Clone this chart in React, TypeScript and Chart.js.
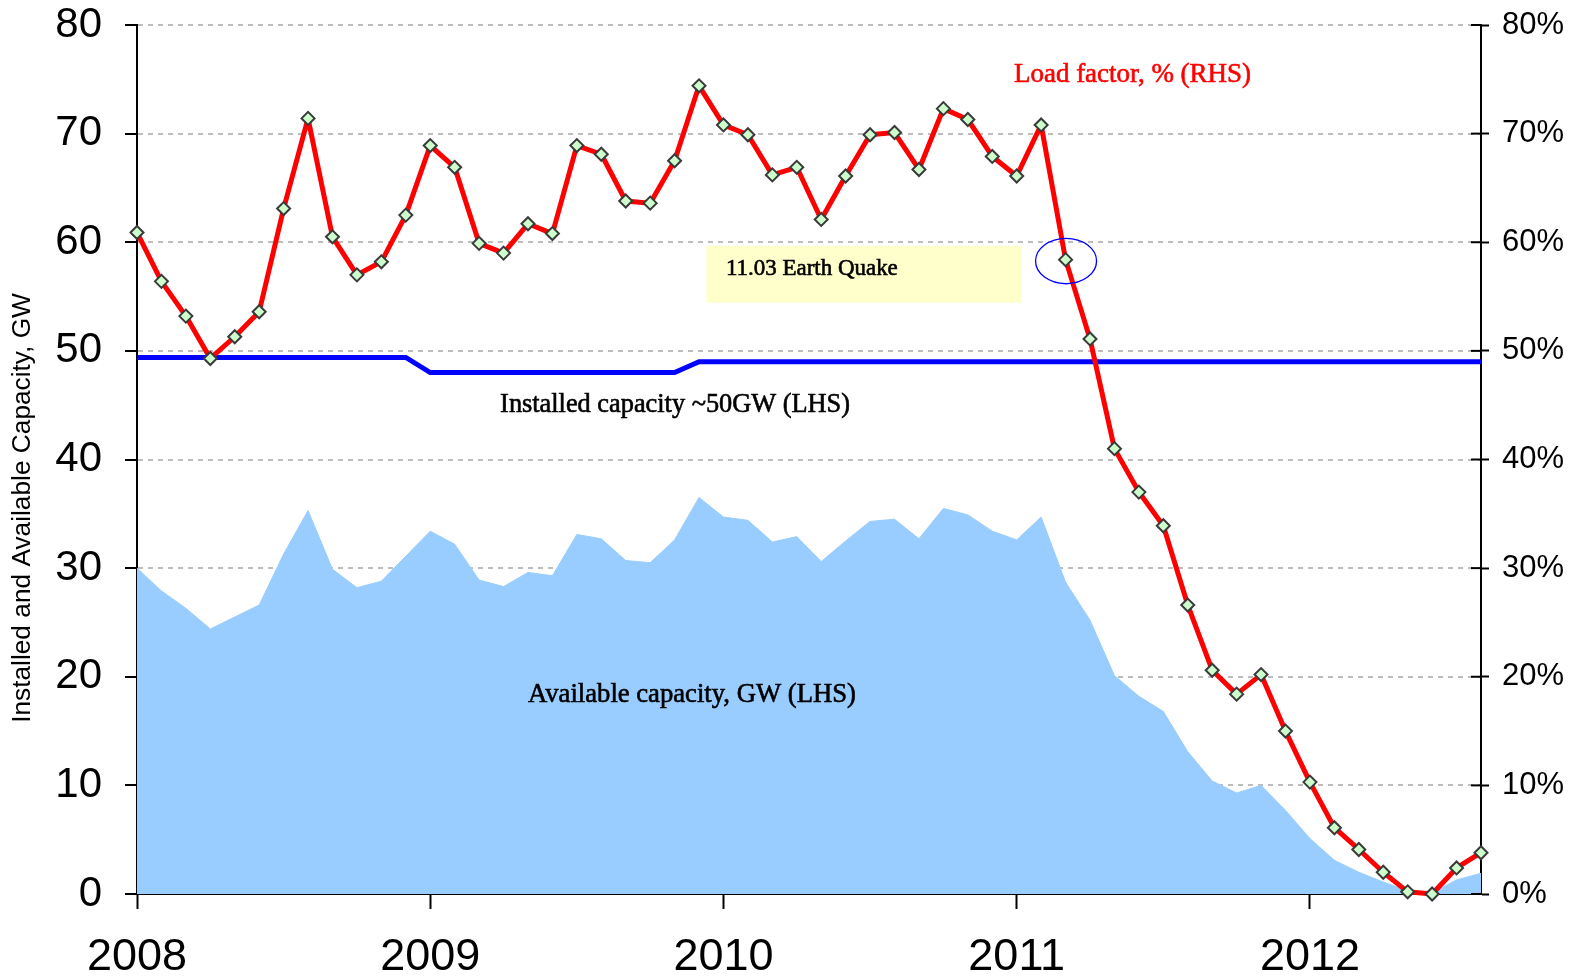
import React, { useEffect, useRef } from "react";
import { Chart, registerables } from "chart.js";

Chart.register(...registerables);

// ---- Data (monthly, Jan 2008 .. Aug 2012) ----
const yearTickPositions = [0, 12, 24, 36, 48];
const yearTickLabels = ["2008", "2009", "2010", "2011", "2012"];

// Load factor, % (RHS)
const loadFactor = [
  60.9, 56.4, 53.2, 49.3, 51.3, 53.6, 63.1, 71.4, 60.5, 57.0, 58.2, 62.5,
  68.9, 66.9, 59.9, 59.0, 61.7, 60.8, 68.9, 68.1, 63.8, 63.6, 67.5, 74.4,
  70.8, 69.9, 66.2, 66.9, 62.1, 66.1, 69.9, 70.1, 66.7, 72.3, 71.3, 67.9,
  66.1, 70.8, 58.4, 51.1, 41.0, 37.0, 33.9, 26.6, 20.6, 18.4, 20.2, 15.0,
  10.3, 6.1, 4.1, 2.0, 0.2, 0.0, 2.4, 3.8,
];

// Available capacity, GW (LHS)
const availableCapacity = [
  30.0, 27.9, 26.3, 24.4, 25.5, 26.6, 31.3, 35.3, 29.9, 28.2, 28.8, 31.1,
  33.4, 32.2, 28.9, 28.3, 29.6, 29.3, 33.1, 32.7, 30.7, 30.5, 32.6, 36.5,
  34.7, 34.4, 32.4, 32.9, 30.6, 32.5, 34.3, 34.5, 32.7, 35.5, 34.9, 33.4,
  32.6, 34.7, 28.7, 25.2, 20.1, 18.2, 16.8, 13.1, 10.4, 9.3, 10.0, 7.7,
  5.1, 3.1, 2.0, 1.1, 0.3, 0.1, 1.3, 1.9,
];

// Installed capacity ~50GW (LHS)
const installedCapacity = [
  49.4, 49.4, 49.4, 49.4, 49.4, 49.4, 49.4, 49.4, 49.4, 49.4, 49.4, 49.4,
  48.0, 48.0, 48.0, 48.0, 48.0, 48.0, 48.0, 48.0, 48.0, 48.0, 48.0, 49.0,
  49.0, 49.0, 49.0, 49.0, 49.0, 49.0, 49.0, 49.0, 49.0, 49.0, 49.0, 49.0,
  49.0, 49.0, 49.0, 49.0, 49.0, 49.0, 49.0, 49.0, 49.0, 49.0, 49.0, 49.0,
  49.0, 49.0, 49.0, 49.0, 49.0, 49.0, 49.0, 49.0,
];

const leftTickValues = [0, 10, 20, 30, 40, 50, 60, 70, 80];

const SERIF = '"Liberation Serif", "Times New Roman", serif';
const SANS = '"Liberation Sans", Arial, sans-serif';

function setFittedFont(ctx: CanvasRenderingContext2D, text: string, family: string, target: number, base: number) {
  ctx.font = `${base}px ${family}`;
  const w = ctx.measureText(text).width;
  const size = (base * target) / w;
  ctx.font = `${size}px ${family}`;
}

function heavyText(ctx: CanvasRenderingContext2D, text: string, x: number, y: number, color: string) {
  ctx.fillStyle = color;
  ctx.strokeStyle = color;
  ctx.lineWidth = 0.6;
  ctx.fillText(text, x, y);
  ctx.strokeText(text, x, y);
}

function noScalePadding(axis: any) {
  axis.paddingTop = 0;
  axis.paddingBottom = 0;
  axis.paddingLeft = 0;
  axis.paddingRight = 0;
}

const annotationPlugin = {
  id: "annotations",
  beforeDatasetsDraw(chart: any) {
    const { ctx } = chart;
    const xs = chart.scales.x;
    const ys = chart.scales.y;
    const x0 = xs.getPixelForValue(23.3);
    const x1 = xs.getPixelForValue(36.21);
    const y0 = ys.getPixelForValue(59.68);
    const y1 = ys.getPixelForValue(54.44);
    ctx.save();
    ctx.fillStyle = "#FFFFCC";
    ctx.fillRect(x0, y0, x1 - x0, y1 - y0);
    ctx.restore();
  },
  afterDatasetsDraw(chart: any) {
    const { ctx, chartArea } = chart;
    const xs = chart.scales.x;
    const ys = chart.scales.y;
    const y1s = chart.scales.y1;
    ctx.save();

    // inner tick marks on right axis
    ctx.strokeStyle = "#000";
    ctx.lineWidth = 2;
    for (const v of leftTickValues) {
      const p = y1s.getPixelForValue(v);
      ctx.beginPath();
      ctx.moveTo(chartArea.right - 10, p);
      ctx.lineTo(chartArea.right, p);
      ctx.stroke();
    }

    // circle around the quake point
    const cx = xs.getPixelForValue(38.02);
    const cy = ys.getPixelForValue(58.27);
    ctx.strokeStyle = "#0000FF";
    ctx.lineWidth = 1.3;
    ctx.beginPath();
    ctx.ellipse(cx, cy, 30.5, 22.7, 0, 0, Math.PI * 2);
    ctx.stroke();

    ctx.textAlign = "left";
    ctx.textBaseline = "alphabetic";

    // Load factor label
    setFittedFont(ctx, "Load factor, % (RHS)", SERIF, 237, 26);
    heavyText(ctx, "Load factor, % (RHS)", xs.getPixelForValue(35.89), ys.getPixelForValue(74.75), "#FF0000");

    // Quake label
    setFittedFont(ctx, "11.03 Earth Quake", SERIF, 172, 22);
    heavyText(ctx, "11.03 Earth Quake", xs.getPixelForValue(24.1), ys.getPixelForValue(56.98), "#000");

    // Installed capacity label
    setFittedFont(ctx, "Installed capacity ~50GW (LHS)", SERIF, 350, 26);
    heavyText(ctx, "Installed capacity ~50GW (LHS)", xs.getPixelForValue(14.86), ys.getPixelForValue(44.37), "#000");

    // Available capacity label
    setFittedFont(ctx, "Available capacity, GW (LHS)", SERIF, 328, 26);
    heavyText(ctx, "Available capacity, GW (LHS)", xs.getPixelForValue(16.0), ys.getPixelForValue(17.68), "#000");

    // Y axis title
    ctx.save();
    ctx.translate(23, 508);
    ctx.rotate(-Math.PI / 2);
    ctx.textAlign = "center";
    ctx.textBaseline = "middle";
    ctx.fillStyle = "#000";
    setFittedFont(ctx, "Installed and Available Capacity, GW", SANS, 430, 25);
    ctx.fillText("Installed and Available Capacity, GW", 0, 0);
    ctx.restore();

    ctx.restore();
  },
};

export default function App() {
  const canvasRef = useRef<HTMLCanvasElement | null>(null);

  useEffect(() => {
    document.body.style.margin = "0";
    document.body.style.overflow = "hidden";
    const canvas = canvasRef.current;
    if (!canvas) return;

    const chart = new Chart(canvas, {
      type: "line",
      data: {
        datasets: [
          {
            label: "Load factor, % (RHS)",
            data: loadFactor.map((y, i) => ({ x: i, y })),
            yAxisID: "y1",
            borderColor: "#FF0000",
            borderWidth: 5,
            borderJoinStyle: "round",
            pointStyle: "rectRot",
            pointRadius: 6.5,
            pointBackgroundColor: "#CCFFCC",
            pointBorderColor: "#3A3A3A",
            pointBorderWidth: 2,
            fill: false,
            tension: 0,
            clip: false,
            order: 0,
          },
          {
            label: "Installed capacity ~50GW (LHS)",
            data: installedCapacity.map((y, i) => ({ x: i, y })),
            yAxisID: "y",
            borderColor: "#0000FF",
            borderWidth: 5,
            pointRadius: 0,
            fill: false,
            tension: 0,
            order: 1,
          },
          {
            label: "Available capacity, GW (LHS)",
            data: availableCapacity.map((y, i) => ({ x: i, y })),
            yAxisID: "y",
            borderColor: "#99CCFF",
            borderWidth: 1,
            backgroundColor: "#99CCFF",
            pointRadius: 0,
            fill: "origin",
            tension: 0,
            order: 2,
          },
        ],
      },
      options: {
        animation: false,
        responsive: false,
        devicePixelRatio: 1,
        layout: { padding: { top: 25, left: 0, right: 0, bottom: 0 } },
        plugins: {
          legend: { display: false },
          tooltip: { enabled: false },
        },
        scales: {
          x: {
            type: "linear",
            min: 0,
            max: 55,
            offset: false,
            afterBuildTicks: (axis: any) => {
              axis.ticks = yearTickPositions.map((v) => ({ value: v }));
            },
            afterFit: (axis: any) => {
              axis.height = 86;
              noScalePadding(axis);
            },
            ticks: {
              autoSkip: false,
              maxRotation: 0,
              color: "#000",
              padding: 22,
              font: { family: SANS, size: 45 },
              callback: (value: any) => {
                const idx = yearTickPositions.indexOf(Number(value));
                return idx >= 0 ? yearTickLabels[idx] : "";
              },
            },
            grid: {
              drawOnChartArea: false,
              drawTicks: true,
              tickLength: 15,
              tickColor: "#000",
              tickWidth: 2,
            },
            border: { display: true, color: "#000", width: 2 },
          },
          y: {
            type: "linear",
            position: "left",
            min: 0,
            max: 80,
            afterFit: (axis: any) => {
              axis.width = 137;
              noScalePadding(axis);
            },
            ticks: {
              stepSize: 10,
              color: "#000",
              padding: 23,
              font: { family: SANS, size: 42 },
            },
            grid: {
              drawOnChartArea: true,
              color: "#BDBDBD",
              lineWidth: 2,
              tickLength: 12,
              tickColor: "#000",
              tickWidth: 2,
              tickBorderDash: [],
            },
            border: { display: true, color: "#000", width: 2, dash: [5, 5] },
          },
          y1: {
            type: "linear",
            position: "right",
            min: 0,
            max: 80,
            afterFit: (axis: any) => {
              axis.width = 90;
              noScalePadding(axis);
            },
            ticks: {
              stepSize: 10,
              color: "#000",
              padding: 13,
              font: { family: SANS, size: 31 },
              callback: (value: any) => `${value}%`,
            },
            grid: {
              drawOnChartArea: false,
              tickLength: 8,
              tickColor: "#000",
              tickWidth: 2,
            },
            border: { display: true, color: "#000", width: 2 },
          },
        },
      },
      plugins: [annotationPlugin],
    } as any);

    return () => {
      chart.destroy();
    };
  }, []);

  return (
    <div style={{ position: "absolute", left: 0, top: 0, width: 1571, height: 980, background: "#fff" }}>
      <canvas ref={canvasRef} width={1571} height={980} style={{ display: "block" }} />
    </div>
  );
}
